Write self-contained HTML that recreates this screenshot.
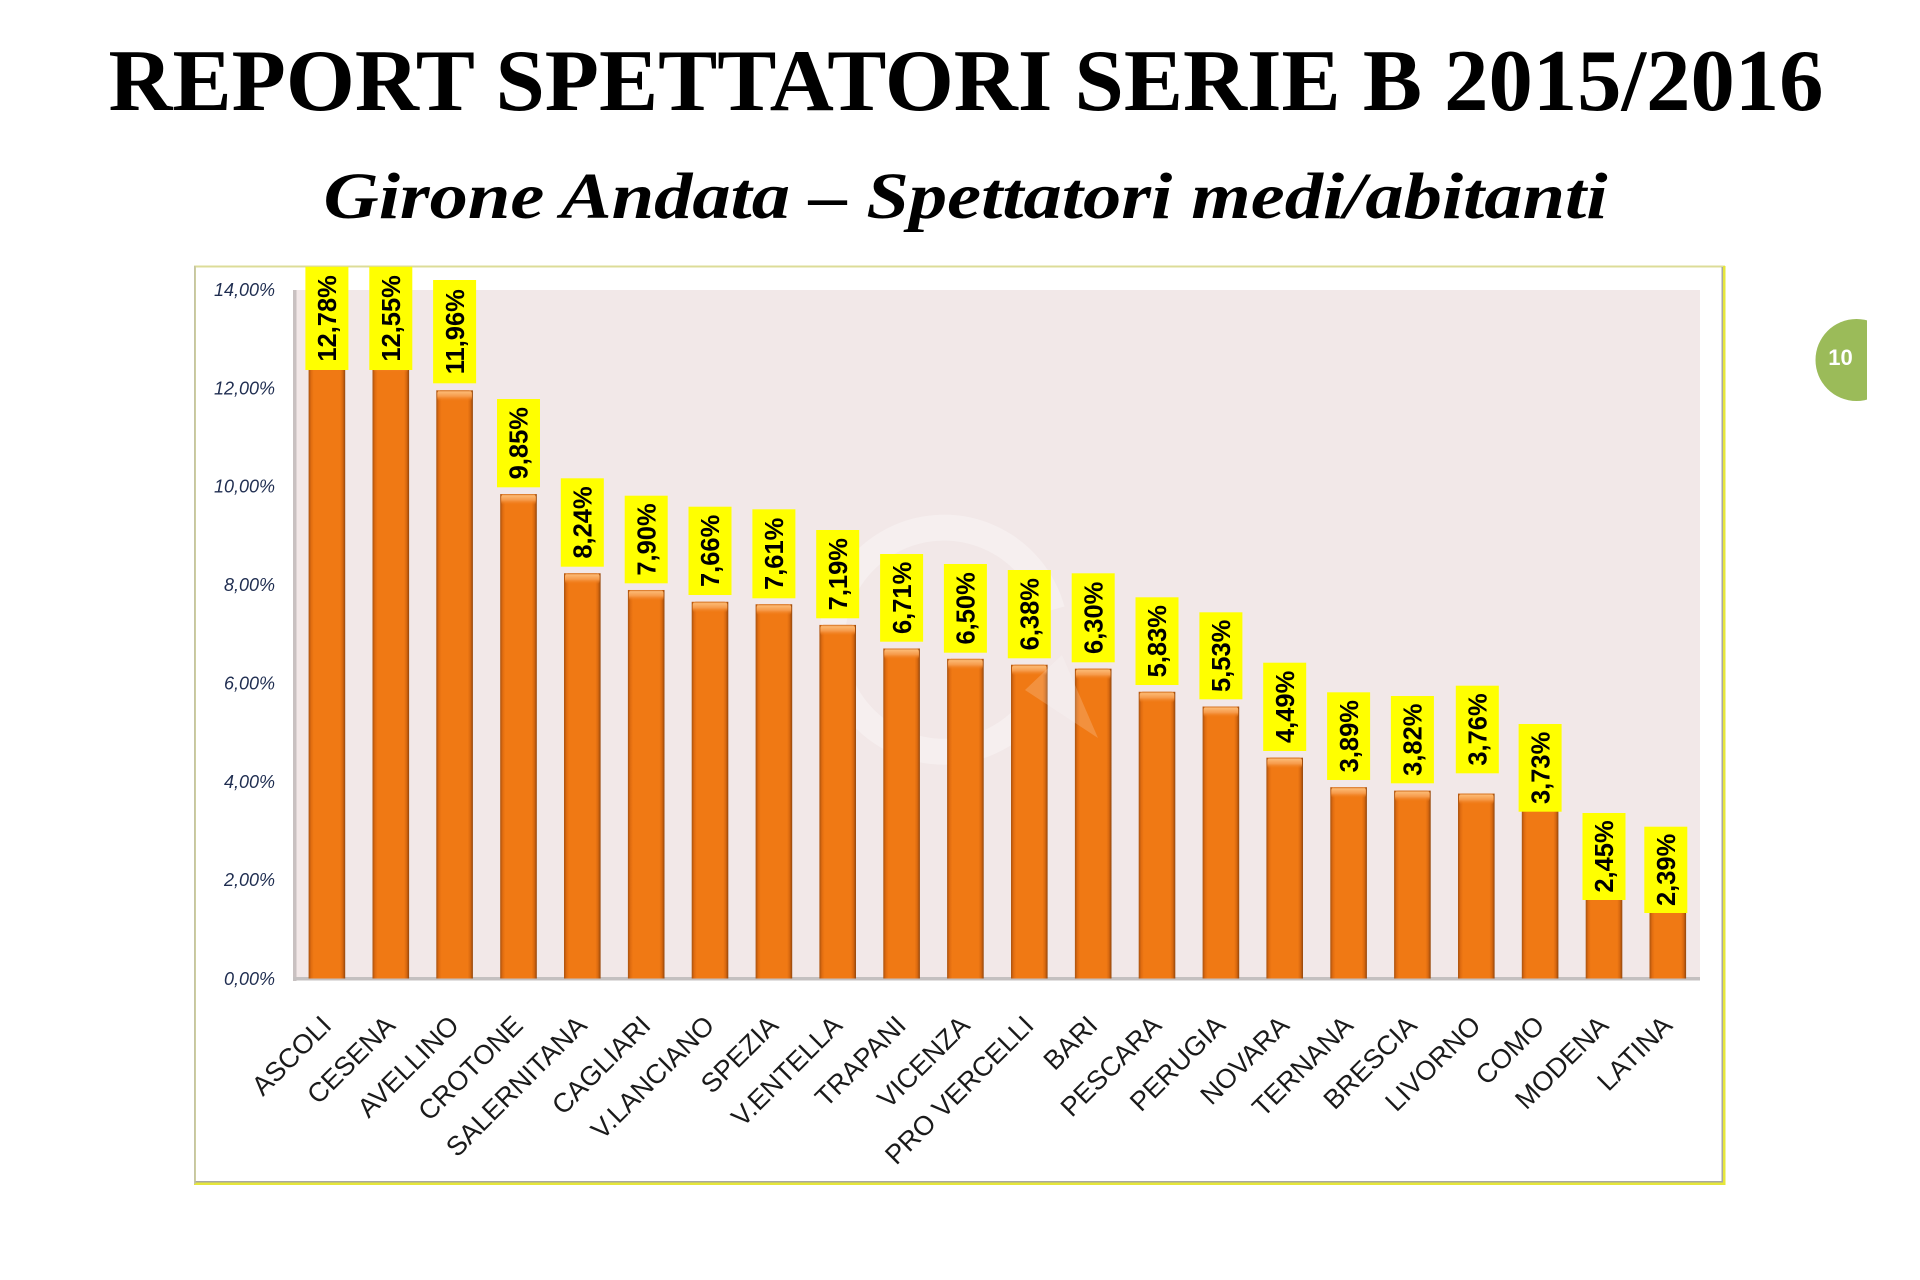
<!DOCTYPE html>
<html>
<head>
<meta charset="utf-8">
<style>
  html, body { margin: 0; padding: 0; background: #ffffff; }
  body { width: 1920px; height: 1280px; overflow: hidden; }
  svg { display: block; }
  .yl { font-family: "Liberation Sans", sans-serif; font-style: italic; font-size: 18px; fill: #1f2d50; }
  .xl { font-family: "Liberation Sans", sans-serif; font-size: 27px; fill: #1a1a1a; }
  .vl { font-family: "Liberation Sans", sans-serif; font-weight: bold; font-size: 25.5px; fill: #000; }
</style>
</head>
<body>
<svg width="1920" height="1280" viewBox="0 0 1920 1280" xmlns="http://www.w3.org/2000/svg">
  <defs>
    <linearGradient id="bg" x1="0" y1="0" x2="1" y2="0">
      <stop offset="0" stop-color="#a9520f"/>
      <stop offset="0.07" stop-color="#e06c10"/>
      <stop offset="0.14" stop-color="#f07914"/>
      <stop offset="0.86" stop-color="#f07914"/>
      <stop offset="0.93" stop-color="#d8680f"/>
      <stop offset="1" stop-color="#92460c"/>
    </linearGradient>
    <linearGradient id="cap" x1="0" y1="0" x2="0" y2="1">
      <stop offset="0" stop-color="#d06a18"/>
      <stop offset="0.15" stop-color="#fcb872"/>
      <stop offset="0.55" stop-color="#f69a4a"/>
      <stop offset="1" stop-color="#f07914" stop-opacity="0"/>
    </linearGradient>
  </defs>

  <!-- Titles -->
  <text x="966" y="110" text-anchor="middle" font-family="Liberation Serif, serif" font-weight="bold" font-size="88" textLength="1715" lengthAdjust="spacingAndGlyphs" fill="#000">REPORT SPETTATORI SERIE B 2015/2016</text>
  <text x="965.5" y="218" text-anchor="middle" font-family="Liberation Serif, serif" font-weight="bold" font-style="italic" font-size="66" textLength="1284" lengthAdjust="spacingAndGlyphs" fill="#000">Girone Andata – Spettatori medi/abitanti</text>

  <!-- Page badge -->
  <circle cx="1856.5" cy="360" r="41" fill="#9bbb59"/>
  <rect x="1867" y="300" width="60" height="120" fill="#ffffff"/>
  <text x="1840.5" y="365" text-anchor="middle" font-family="Liberation Sans, sans-serif" font-weight="bold" font-size="22" fill="#ffffff">10</text>

  <!-- Chart frame -->
  <rect x="195" y="266.5" width="1529" height="916" fill="#ffffff" stroke="#dcdc98" stroke-width="2"/>
  <rect x="1721.5" y="267" width="1.5" height="915.5" fill="#a8a8a0"/>
  <rect x="1723" y="266" width="2.5" height="919" fill="#e6e63a"/>
  <rect x="195" y="1181" width="1528" height="1.5" fill="#a8a8a0"/>
  <rect x="194" y="1182.5" width="1531.5" height="2.5" fill="#e6e63a"/>
  <rect x="194" y="266" width="1.6" height="918" fill="#c4c4a4"/>

  <!-- Plot area -->
  <rect x="295" y="290" width="1405" height="688.5" fill="#f2e8e8"/>
  <rect x="293" y="290" width="3.5" height="691" fill="#c9c1c1"/>
  <rect x="293" y="977" width="1407" height="3.5" fill="#c4c0c0"/>

  <!-- Watermark -->
  <g opacity="0.3" fill="none" stroke="#ffffff">
    <path d="M 1035 705 A 112 112 0 1 1 1052 610" stroke-width="26"/>
  </g>

  <!-- Y axis labels -->
  <g class="yl" text-anchor="end">
    <text x="275" y="985">0,00%</text>
    <text x="275" y="886.1">2,00%</text>
    <text x="275" y="787.8">4,00%</text>
    <text x="275" y="689.4">6,00%</text>
    <text x="275" y="591.1">8,00%</text>
    <text x="275" y="492.7">10,00%</text>
    <text x="275" y="394.4">12,00%</text>
    <text x="275" y="296">14,00%</text>
  </g>

  <!-- Bars -->
  <g>
    <rect x="308.6" y="349.98" width="36.6" height="628.52" fill="url(#bg)"/>
    <rect x="372.5" y="361.29" width="36.6" height="617.21" fill="url(#bg)"/>
    <rect x="436.3" y="390.31" width="36.6" height="588.19" fill="url(#bg)"/>
    <rect x="500.2" y="494.08" width="36.6" height="484.42" fill="url(#bg)"/>
    <rect x="564.0" y="573.26" width="36.6" height="405.24" fill="url(#bg)"/>
    <rect x="627.9" y="589.98" width="36.6" height="388.52" fill="url(#bg)"/>
    <rect x="691.7" y="601.78" width="36.6" height="376.72" fill="url(#bg)"/>
    <rect x="755.6" y="604.24" width="36.6" height="374.26" fill="url(#bg)"/>
    <rect x="819.4" y="624.90" width="36.6" height="353.60" fill="url(#bg)"/>
    <rect x="883.3" y="648.50" width="36.6" height="330.00" fill="url(#bg)"/>
    <rect x="947.1" y="658.83" width="36.6" height="319.67" fill="url(#bg)"/>
    <rect x="1011.0" y="664.73" width="36.6" height="313.77" fill="url(#bg)"/>
    <rect x="1074.9" y="668.67" width="36.6" height="309.83" fill="url(#bg)"/>
    <rect x="1138.7" y="691.78" width="36.6" height="286.72" fill="url(#bg)"/>
    <rect x="1202.6" y="706.53" width="36.6" height="271.97" fill="url(#bg)"/>
    <rect x="1266.4" y="757.68" width="36.6" height="220.82" fill="url(#bg)"/>
    <rect x="1330.3" y="787.19" width="36.6" height="191.31" fill="url(#bg)"/>
    <rect x="1394.1" y="790.63" width="36.6" height="187.87" fill="url(#bg)"/>
    <rect x="1458.0" y="793.58" width="36.6" height="184.92" fill="url(#bg)"/>
    <rect x="1521.8" y="795.06" width="36.6" height="183.44" fill="url(#bg)"/>
    <rect x="1585.7" y="858.01" width="36.6" height="120.49" fill="url(#bg)"/>
    <rect x="1649.5" y="860.96" width="36.6" height="117.54" fill="url(#bg)"/>
  </g>
  <!-- Bar caps -->
  <g>
    <rect x="309.6" y="349.98" width="34.6" height="11" rx="3" fill="url(#cap)"/>
    <rect x="373.5" y="361.29" width="34.6" height="11" rx="3" fill="url(#cap)"/>
    <rect x="437.3" y="390.31" width="34.6" height="11" rx="3" fill="url(#cap)"/>
    <rect x="501.2" y="494.08" width="34.6" height="11" rx="3" fill="url(#cap)"/>
    <rect x="565.0" y="573.26" width="34.6" height="11" rx="3" fill="url(#cap)"/>
    <rect x="628.9" y="589.98" width="34.6" height="11" rx="3" fill="url(#cap)"/>
    <rect x="692.7" y="601.78" width="34.6" height="11" rx="3" fill="url(#cap)"/>
    <rect x="756.6" y="604.24" width="34.6" height="11" rx="3" fill="url(#cap)"/>
    <rect x="820.4" y="624.90" width="34.6" height="11" rx="3" fill="url(#cap)"/>
    <rect x="884.3" y="648.50" width="34.6" height="11" rx="3" fill="url(#cap)"/>
    <rect x="948.1" y="658.83" width="34.6" height="11" rx="3" fill="url(#cap)"/>
    <rect x="1012.0" y="664.73" width="34.6" height="11" rx="3" fill="url(#cap)"/>
    <rect x="1075.9" y="668.67" width="34.6" height="11" rx="3" fill="url(#cap)"/>
    <rect x="1139.7" y="691.78" width="34.6" height="11" rx="3" fill="url(#cap)"/>
    <rect x="1203.6" y="706.53" width="34.6" height="11" rx="3" fill="url(#cap)"/>
    <rect x="1267.4" y="757.68" width="34.6" height="11" rx="3" fill="url(#cap)"/>
    <rect x="1331.3" y="787.19" width="34.6" height="11" rx="3" fill="url(#cap)"/>
    <rect x="1395.1" y="790.63" width="34.6" height="11" rx="3" fill="url(#cap)"/>
    <rect x="1459.0" y="793.58" width="34.6" height="11" rx="3" fill="url(#cap)"/>
    <rect x="1522.8" y="795.06" width="34.6" height="11" rx="3" fill="url(#cap)"/>
    <rect x="1586.7" y="858.01" width="34.6" height="11" rx="3" fill="url(#cap)"/>
    <rect x="1650.5" y="860.96" width="34.6" height="11" rx="3" fill="url(#cap)"/>
  </g>

  <!-- Watermark arrowhead over bars -->
  <polygon points="1025,690 1098,738 1062,655" fill="#ffffff" opacity="0.18"/>

  <!-- Value label boxes -->
  <g fill="#ffff00">
    <rect x="305.4" y="266.8" width="43" height="103.2"/>
    <rect x="369.3" y="266.8" width="43" height="103.2"/>
    <rect x="433.1" y="280.0" width="43" height="103.3"/>
    <rect x="497.0" y="399.0" width="43" height="88.3"/>
    <rect x="560.8" y="478.3" width="43" height="88.4"/>
    <rect x="624.7" y="495.7" width="43" height="87.6"/>
    <rect x="688.5" y="506.7" width="43" height="88.3"/>
    <rect x="752.4" y="509.3" width="43" height="89.0"/>
    <rect x="816.2" y="530.0" width="43" height="88.3"/>
    <rect x="880.1" y="554.0" width="43" height="87.7"/>
    <rect x="943.9" y="564.0" width="43" height="88.7"/>
    <rect x="1007.8" y="570.0" width="43" height="88.3"/>
    <rect x="1071.7" y="573.3" width="43" height="89.0"/>
    <rect x="1135.5" y="597.3" width="43" height="87.7"/>
    <rect x="1199.4" y="612.3" width="43" height="87.0"/>
    <rect x="1263.2" y="662.7" width="43" height="88.3"/>
    <rect x="1327.1" y="692.3" width="43" height="87.7"/>
    <rect x="1390.9" y="696.0" width="43" height="87.3"/>
    <rect x="1455.8" y="685.7" width="43" height="87.6"/>
    <rect x="1518.6" y="724.0" width="43" height="87.7"/>
    <rect x="1582.5" y="813.0" width="43" height="87.0"/>
    <rect x="1644.3" y="826.7" width="43" height="86.3"/>
  </g>

  <!-- Value label text -->
  <g class="vl" text-anchor="middle">
    <text transform="translate(336.1,318.4) rotate(-90)">12,78%</text>
    <text transform="translate(400.0,318.4) rotate(-90)">12,55%</text>
    <text transform="translate(463.8,331.7) rotate(-90)">11,96%</text>
    <text transform="translate(527.7,443.2) rotate(-90)">9,85%</text>
    <text transform="translate(591.5,522.5) rotate(-90)">8,24%</text>
    <text transform="translate(655.4,539.5) rotate(-90)">7,90%</text>
    <text transform="translate(719.2,550.9) rotate(-90)">7,66%</text>
    <text transform="translate(783.1,553.8) rotate(-90)">7,61%</text>
    <text transform="translate(846.9,574.2) rotate(-90)">7,19%</text>
    <text transform="translate(910.8,597.9) rotate(-90)">6,71%</text>
    <text transform="translate(974.6,608.4) rotate(-90)">6,50%</text>
    <text transform="translate(1038.5,614.2) rotate(-90)">6,38%</text>
    <text transform="translate(1102.4,617.8) rotate(-90)">6,30%</text>
    <text transform="translate(1166.2,641.2) rotate(-90)">5,83%</text>
    <text transform="translate(1230.1,655.8) rotate(-90)">5,53%</text>
    <text transform="translate(1293.9,706.9) rotate(-90)">4,49%</text>
    <text transform="translate(1357.8,736.2) rotate(-90)">3,89%</text>
    <text transform="translate(1421.6,739.7) rotate(-90)">3,82%</text>
    <text transform="translate(1486.5,729.5) rotate(-90)">3,76%</text>
    <text transform="translate(1549.3,767.9) rotate(-90)">3,73%</text>
    <text transform="translate(1613.2,856.5) rotate(-90)">2,45%</text>
    <text transform="translate(1675.0,869.9) rotate(-90)">2,39%</text>
  </g>

  <!-- X axis labels -->
  <g class="xl" text-anchor="end">
    <text transform="translate(332.9,1027) rotate(-45)">ASCOLI</text>
    <text transform="translate(396.8,1027) rotate(-45)">CESENA</text>
    <text transform="translate(460.6,1027) rotate(-45)">AVELLINO</text>
    <text transform="translate(524.5,1027) rotate(-45)">CROTONE</text>
    <text transform="translate(588.3,1027) rotate(-45)">SALERNITANA</text>
    <text transform="translate(652.2,1027) rotate(-45)">CAGLIARI</text>
    <text transform="translate(716.0,1027) rotate(-45)">V.LANCIANO</text>
    <text transform="translate(779.9,1027) rotate(-45)">SPEZIA</text>
    <text transform="translate(843.7,1027) rotate(-45)">V.ENTELLA</text>
    <text transform="translate(907.6,1027) rotate(-45)">TRAPANI</text>
    <text transform="translate(971.4,1027) rotate(-45)">VICENZA</text>
    <text transform="translate(1035.3,1027) rotate(-45)">PRO VERCELLI</text>
    <text transform="translate(1099.2,1027) rotate(-45)">BARI</text>
    <text transform="translate(1163.0,1027) rotate(-45)">PESCARA</text>
    <text transform="translate(1226.9,1027) rotate(-45)">PERUGIA</text>
    <text transform="translate(1290.7,1027) rotate(-45)">NOVARA</text>
    <text transform="translate(1354.6,1027) rotate(-45)">TERNANA</text>
    <text transform="translate(1418.4,1027) rotate(-45)">BRESCIA</text>
    <text transform="translate(1482.3,1027) rotate(-45)">LIVORNO</text>
    <text transform="translate(1546.1,1027) rotate(-45)">COMO</text>
    <text transform="translate(1610.0,1027) rotate(-45)">MODENA</text>
    <text transform="translate(1673.8,1027) rotate(-45)">LATINA</text>
  </g>
</svg>
</body>
</html>
